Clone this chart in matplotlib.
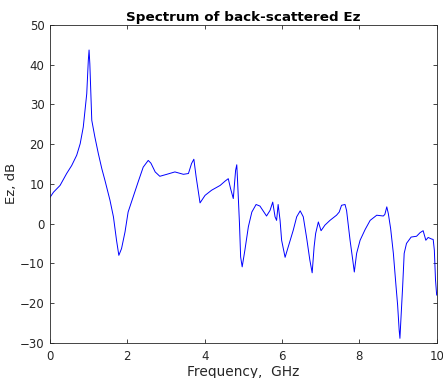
import matplotlib
matplotlib.use("Agg")
import matplotlib.pyplot as plt

freq = [0.00, 0.09, 0.26, 0.43, 0.56, 0.69, 0.78, 0.86, 0.95, 0.99, 1.01, 1.03, 1.08,
        1.16, 1.25, 1.34, 1.42, 1.55, 1.64, 1.72, 1.78, 1.85, 1.94, 2.02, 2.15, 2.28,
        2.41, 2.54, 2.61, 2.72, 2.84, 3.02, 3.23, 3.45, 3.58, 3.66, 3.72, 3.78, 3.88,
        4.01, 4.18, 4.40, 4.53, 4.61, 4.67, 4.74, 4.80, 4.83, 4.85, 4.90, 4.93, 4.97,
        5.04, 5.13, 5.22, 5.33, 5.43, 5.60, 5.69, 5.76, 5.82, 5.86, 5.90, 5.95, 5.99,
        6.08, 6.16, 6.29, 6.38, 6.47, 6.55, 6.64, 6.72, 6.78, 6.83, 6.87, 6.94, 7.01,
        7.11, 7.24, 7.41, 7.48, 7.54, 7.63, 7.67, 7.76, 7.83, 7.87, 7.93, 8.02, 8.15,
        8.28, 8.45, 8.62, 8.66, 8.71, 8.75, 8.81, 8.88, 8.95, 8.99, 9.03, 9.05, 9.07,
        9.12, 9.16, 9.22, 9.34, 9.48, 9.57, 9.65, 9.72, 9.78, 9.87, 9.91, 9.94, 9.97,
        10.00]
ez_db = [6.6, 7.9, 9.6, 12.6, 14.6, 17.2, 20.1, 24.3, 32.7, 41.0, 43.7, 40.2, 26.0,
         21.8, 17.6, 13.8, 10.9, 5.9, 1.7, -4.2, -8.0, -6.3, -2.1, 2.9, 6.7, 10.5,
         14.2, 15.9, 15.2, 13.0, 11.9, 12.4, 13.0, 12.4, 12.6, 15.1, 16.2, 11.7, 5.2,
         7.1, 8.4, 9.6, 10.7, 11.3, 8.8, 6.3, 13.4, 14.8, 10.9, 0.0, -8.4, -10.9,
         -6.7, -0.8, 2.9, 4.8, 4.4, 1.9, 3.3, 5.4, 1.7, 0.8, 4.8, 0.8, -4.2,
         -8.5, -5.9, -1.7, 1.7, 3.2, 1.7, -3.8, -9.2, -12.4, -5.9, -2.5, 0.4, -1.8,
         -0.4, 0.8, 2.1, 2.9, 4.6, 4.8, 3.3, -4.2, -9.2, -12.2, -7.5, -4.2, -1.5,
         0.8, 2.1, 1.9, 2.3, 4.2, 2.5, -1.3, -7.5, -15.9, -20.5, -26.8, -28.9, -25.1,
         -15.9, -7.5, -5.0, -3.4, -3.2, -2.3, -1.8, -4.2, -3.5, -3.9, -4.0, -6.7, -14.2,
         -18.0]

title = "Spectrum of back-scattered Ez"
xlabel = "Frequency,  GHz"
ylabel = "Ez, dB"
xticks = [0, 2, 4, 6, 8, 10]
yticks = [-30, -20, -10, 0, 10, 20, 30, 40, 50]

plt.rcParams['font.family'] = ['DejaVu Sans']
fig = plt.figure(figsize=(4.43, 3.78), dpi=100)
ax = fig.add_axes([0.1129, 0.0934, 0.8728, 0.8405])
ax.plot(freq, ez_db, color='#0000ff', linewidth=0.7)
ax.set_xlim(0, 10)
ax.set_ylim(-30, 50)
ax.set_xticks(xticks)
ax.set_yticks(yticks)
gray = '#262626'
ax.tick_params(direction='in', length=3, width=0.6, labelsize=8.5, colors=gray,
               top=True, right=True, labeltop=False, labelright=False)
ax.tick_params(axis='x', pad=5)
ax.tick_params(axis='y', pad=4)
for s in ax.spines.values():
    s.set_linewidth(0.6)
    s.set_color(gray)
ax.set_title(title, fontsize=9.7, fontweight='bold', pad=3)
ax.set_xlabel(xlabel, fontsize=9.9, color=gray, labelpad=2)
ax.set_ylabel(ylabel, fontsize=9.5, color=gray, labelpad=1)
fig.savefig("out.png", dpi=100)
